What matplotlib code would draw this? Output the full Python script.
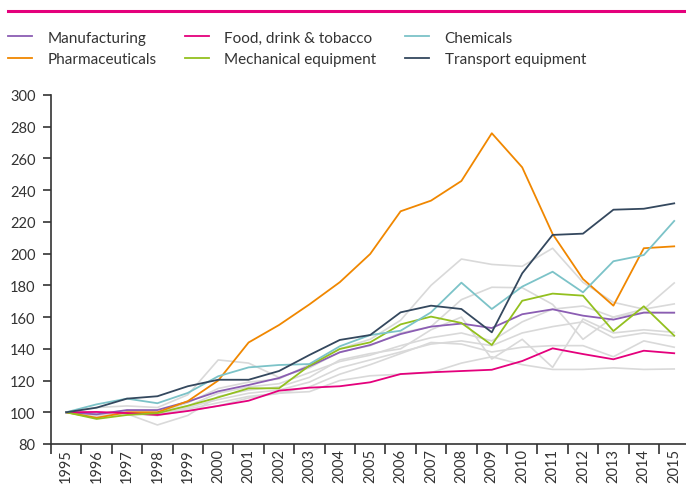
import matplotlib
matplotlib.use("Agg")
import matplotlib.pyplot as plt
from matplotlib.lines import Line2D
import numpy as np

plt.rcParams['font.family'] = ['Lato', 'DejaVu Sans']

years = list(range(1995, 2016))

# highlighted series (index, 1995 = 100)
manufacturing = [100, 98.7, 101.4, 101.4, 106.7, 113.2, 117.2, 121.6, 129, 137.8, 142.4,
                 149.3, 154, 155.9, 153.1, 161.8, 164.9, 160.9, 158.4, 162.8, 162.8]
pharmaceuticals = [100, 96.5, 100, 100, 107, 120, 144, 155, 168, 182, 199.8,
                   226.7, 233.4, 245.8, 275.9, 254.4, 212.4, 184, 167.2, 203.4, 204.6]
food = [100, 100.2, 99.5, 98.3, 100.8, 104, 107.3, 113.6, 115.5, 116.4, 118.9,
        124.1, 125.2, 126, 126.8, 132.3, 140.3, 136.7, 133.4, 138.8, 137.2]
mechanical = [100, 95.8, 98.3, 99.4, 104.1, 109.4, 115.1, 115.1, 129.4, 139.9, 144.1,
              155.4, 160.3, 156.3, 142.4, 170.3, 174.8, 173.5, 151.2, 166.8, 148.3]
chemicals = [100, 105, 108.6, 105.7, 112.2, 122.7, 128.3, 129.8, 130.4, 141.6, 148.7,
             151.4, 163, 181.7, 165.1, 179.2, 188.6, 175.6, 195.2, 199.1, 220.6]
transport = [100, 102.9, 108.6, 110.1, 116.4, 120.5, 120.5, 126, 136.1, 145.6, 148.7,
             163, 167.2, 165.1, 150.4, 187.6, 211.8, 212.6, 227.7, 228.3, 231.7]

# other sectors, drawn in light grey as background
others = [
    [100, 98, 101, 100, 106, 115, 119, 121, 130, 140, 146, 158, 180, 196.6, 193.2, 192, 203.4, 181.9, 169.3, 165, 181.5],
    [100, 103, 104, 103, 111, 133, 131, 122, 128, 138, 142, 150, 154, 171, 178.8, 178.5, 168, 146, 160, 165, 168.3],
    [100, 97, 99, 92, 98, 110, 114, 116, 122, 133, 137, 140, 152, 160, 133.6, 146, 128.3, 158.8, 150, 152, 150.4],
    [100, 99, 101, 100, 104, 112, 116, 118, 125, 132, 136, 142, 147, 150, 145, 157, 165, 167, 160, 163, 162.6],
    [100, 98, 100, 98, 103, 108, 112, 114, 119, 128, 133, 138, 143, 145, 142, 150, 154, 157, 147, 150, 148],
    [100, 99, 100, 99, 102, 106, 110, 112, 116, 124, 130, 137, 144, 143, 138, 141, 142, 142, 135, 145, 141],
    [100, 99, 99, 98, 101, 104, 109, 112, 113, 120, 123, 124, 125, 131, 135, 130, 127, 127, 128, 127, 127.3],
]

labels = ['Manufacturing', 'Pharmaceuticals', 'Food, drink & tobacco',
          'Mechanical equipment', 'Chemicals', 'Transport equipment']
series = [manufacturing, pharmaceuticals, food, mechanical, chemicals, transport]
colors = ['#8b5db3', '#f08700', '#e4007c', '#93c01f', '#7cc3c8', '#34485e']

text_col = '#333333'

fig = plt.figure(figsize=(6.86, 4.85), dpi=100)
ax = fig.add_axes([51 / 686, 40 / 485, 635 / 686, 349 / 485])

for g in others:
    ax.plot(years, g, color='#d9d9d9', lw=1.2, zorder=1)

handles = []
for s, c, lab in zip(series, colors, labels):
    h, = ax.plot(years, s, color=c, lw=1.3, zorder=3, label=lab)
    handles.append(h)

ax.set_ylim(80, 300)
ax.set_yticks(np.arange(80, 301, 20))
ax.set_xlim(1994.5, 1994.5 + 635 / 30.4)
ax.set_xticks(years)
ax.set_xticklabels([str(y) for y in years], rotation=90)
ax.set_xticks(np.arange(1994.5, 2015, 1), minor=True)
ax.tick_params(axis='x', which='major', length=0, pad=3, labelsize=10.5, colors=text_col)
ax.tick_params(axis='x', which='minor', length=7, width=1.2, color=text_col)
ax.tick_params(axis='y', length=6, width=1.2, color=text_col, labelsize=10.5,
               labelcolor=text_col, pad=5)

for side in ['top', 'right']:
    ax.spines[side].set_visible(False)
for side in ['left', 'bottom']:
    ax.spines[side].set_color(text_col)
    ax.spines[side].set_linewidth(1.2)

# magenta rule at the top
fig.add_artist(Line2D([8 / 686, 1], [1 - 12 / 485, 1 - 12 / 485],
                      color='#e4007c', lw=2.2, transform=fig.transFigure))

fig.legend(handles=handles, ncol=3, loc='upper left',
           bbox_to_anchor=(3 / 686, 1 - 27 / 485), frameon=False,
           fontsize=11, labelcolor=text_col, handlelength=1.6,
           handletextpad=1.0, columnspacing=1.85, labelspacing=0.5,
           borderaxespad=0, borderpad=0.3)

fig.savefig('out.png', dpi=100)
